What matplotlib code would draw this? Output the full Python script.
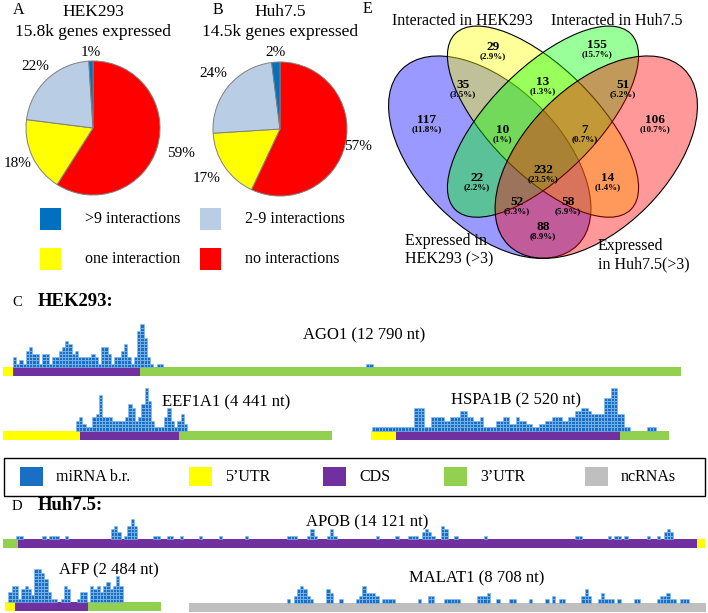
import matplotlib
matplotlib.use('Agg')
import matplotlib.pyplot as plt
from matplotlib.patches import Ellipse, Rectangle
import numpy as np

plt.rcParams['font.family'] = ['Liberation Serif', 'DejaVu Serif']

# ---------------- data ----------------
pie_categories = ['no interactions', 'one interaction', '2-9 interactions', '>9 interactions']
pie_colors = ['#ff0000', '#ffff00', '#b9cde5', '#0070c0']
hek_pct = [59, 18, 22, 1]
huh_pct = [57, 17, 24, 2]

venn_sets = ['Expressed in HEK293 (>3)', 'Interacted in HEK293', 'Interacted in Huh7.5', 'Expressed in Huh7.5(>3)']
venn_counts = [117, 29, 155, 106, 35, 13, 51, 10, 7, 22, 14, 232, 52, 58, 88]
venn_pcts = ['11.8%', '2.9%', '15.7%', '10.7%', '3.5%', '1.3%', '5.2%', '1%', '0.7%',
             '2.2%', '1.4%', '23.5%', '5.3%', '5.9%', '8.9%']

# gene structures (segment lengths in histogram-cell units)
AGO1_segments = [("5'UTR", 3.1), ("CDS", 38.8), ("3'UTR", 165.4)]
EEF1A1_segments = [("5'UTR", 23.5), ("CDS", 30.3), ("3'UTR", 46.8)]
HSPA1B_segments = [("5'UTR", 7.6), ("CDS", 68.5), ("3'UTR", 15.0)]
APOB_segments = [("3'UTR", 4.6), ("CDS", 207.6), ("5'UTR", 2.4)]
AFP_segments = [("5'UTR", 3.1), ("CDS", 22.3), ("3'UTR", 22.3)]
MALAT1_segments = [("ncRNAs", 158.1)]

# miRNA binding-region coverage (stacked cells)
AGO1_start = 3
AGO1_h = [3, 1, 2, 1, 5, 6, 4, 4, 1, 4, 4, 1, 3, 3, 5, 6, 8, 7, 4, 5, 3, 3, 3, 3, 4, 3, 1,
          6, 6, 4, 1, 3, 3, 5, 7, 3, 1, 3, 11, 13, 9, 3, 1, 0, 1, 1]
AGO1_extra_pos = [111, 112]
AGO1_extra_h = [1, 1]

EEF1A1_start = 22.3
EEF1A1_h = [3, 4, 2, 1, 1, 4, 5, 11, 4, 4, 4, 3, 3, 3, 3, 4, 8, 7, 3, 4, 8, 13, 9, 3,
            1, 1, 1, 4, 7, 3, 1, 3, 5, 2]

HSPA1B_start = 0.3
HSPA1B_h = [1] * 13 + [7, 7, 7, 1, 1, 4, 4, 4, 4, 3, 3, 4, 4, 4, 6, 6, 4, 4, 3, 3, 4,
            1, 1, 1, 1, 3, 3, 4, 4, 2, 2, 4, 3, 3, 2, 2, 1, 1, 2, 2, 3, 3, 4, 4, 4,
            3, 3, 4, 4, 6, 6, 7, 7, 6, 5, 5, 5, 5, 10, 10, 13, 13, 5, 5, 1, 1,
            0, 0, 0, 0, 0, 1, 1, 1]

AFP_start = 1
AFP_h = [3, 5, 5, 1, 4, 5, 4, 2, 10, 10, 9, 7, 3, 1, 1, 0, 1, 5, 4, 0, 0, 1, 3, 3, 0,
         5, 4, 5, 3, 5, 6, 4, 5, 8, 5]

APOB_pos = [4, 5, 12, 14, 15, 16, 19, 33, 34, 35, 37, 38, 39, 40, 46, 47, 50, 51, 54, 60,
            66, 74, 87, 88, 89, 93, 94, 95, 99, 100, 101, 114, 120, 124, 125, 126, 128,
            129, 130, 131, 134, 135, 138, 147, 175, 176, 185, 187, 188, 190, 197, 200,
            202, 203, 204]
APOB_h = [1, 1, 1, 1, 1, 1, 1, 3, 4, 2, 1, 4, 6, 4, 1, 1, 1, 1, 1, 1,
          1, 1, 1, 1, 1, 1, 3, 1, 1, 3, 1, 1, 1, 1, 1, 1, 2,
          3, 2, 1, 4, 3, 1, 1, 1, 1, 1, 1, 1, 1, 1, 1,
          2, 3, 2]

MALAT1_pos = [30, 32, 33, 34, 35, 36, 37, 42, 43, 46, 51, 52, 53, 54, 55, 56, 57, 59, 60,
              61, 62, 70, 73, 74, 78, 79, 80, 81, 82, 88, 89, 90, 91, 94, 98, 99, 104,
              109, 111, 113, 114, 120, 121, 122, 125, 126, 127, 128, 129, 131, 136, 137,
              143, 144, 145, 146, 147, 148, 150, 151, 152]
MALAT1_h = [1, 2, 4, 5, 4, 2, 1, 4, 3, 1, 1, 2, 5, 3, 3, 3, 2, 1, 1,
            1, 1, 1, 2, 2, 1, 1, 1, 1, 1, 2, 2, 2, 3, 1, 1, 1, 1,
            1, 2, 1, 1, 2, 4, 2, 1, 3, 1, 1, 1, 1, 1, 1,
            1, 2, 2, 3, 1, 1, 1, 1, 1]

region_colors = {"5'UTR": '#ffff00', 'CDS': '#7030a0', "3'UTR": '#92d050', 'ncRNAs': '#bfbfbf'}
MIR = '#1a6fc4'
MIR_EDGE = '#86bff0'

# ---------------- figure ----------------
W, H = 708, 613
fig = plt.figure(figsize=(W / 100, H / 100), dpi=100)


def ftext(px, py, s, **kw):
    return fig.text(px / W, 1 - py / H, s, **kw)


def add_ax_px(left, top, width, height):
    return fig.add_axes([left / W, 1 - (top + height) / H, width / W, height / H])


# ---- Pies A and B ----
R = 67.0


def draw_pie(cx, cy, values, dists):
    ax = add_ax_px(cx - 1.5 * R, cy - 1.5 * R, 3 * R, 3 * R)
    wedges, _ = ax.pie(values, colors=pie_colors, startangle=90, counterclock=False, radius=1,
                       wedgeprops=dict(edgecolor='#7f7f7f', linewidth=0.7))
    ax.set_xlim(-1.5, 1.5)
    ax.set_ylim(-1.5, 1.5)
    ax.set_aspect('equal')
    ax.axis('off')
    for w, v, d in zip(wedges, values, dists):
        th = np.deg2rad((w.theta1 + w.theta2) / 2)
        ax.text(d * np.cos(th), d * np.sin(th), f'{v}%', ha='center', va='center', fontsize=11)


draw_pie(93, 128, hek_pct, [1.37, 1.24, 1.26, 1.13])
draw_pie(280, 129, huh_pct, [1.19, 1.32, 1.30, 1.14])

ftext(13, 10, 'A', fontsize=11.5, va='center')
ftext(93, 12, 'HEK293', fontsize=12.5, ha='center', va='center')
ftext(93, 32, '15.8k genes expressed', fontsize=12.5, ha='center', va='center')
ftext(213, 10, 'B', fontsize=11.5, va='center')
ftext(280, 12, 'Huh7.5', fontsize=12.5, ha='center', va='center')
ftext(280, 32, '14.5k genes expressed', fontsize=12.5, ha='center', va='center')

# pie legend
leg_order = [3, 2, 1, 0]
leg_xy = [(40, 208), (200, 208), (40, 248), (200, 248)]
for idx, (lx, ly) in zip(leg_order, leg_xy):
    fig.add_artist(Rectangle((lx / W, 1 - (ly + 22) / H), 21 / W, 22 / H,
                             transform=fig.transFigure, facecolor=pie_colors[idx], edgecolor='none'))
    ftext(lx + 45, ly + 11, pie_categories[idx], fontsize=11.5, va='center')

# ---- Venn E ----
S = 355.0
CXP, Y0 = 543.0, 324.0
vl, vr, vt, vb = 363, 708, 0, 292
axv = add_ax_px(vl, vt, vr - vl, vb - vt)
axv.set_xlim(0.5 + (vl - CXP) / S, 0.5 + (vr - CXP) / S)
axv.set_ylim((Y0 - vb) / S, (Y0 - vt) / S)
axv.axis('off')
ell_specs = [((0.35, 0.47), 0.70, 0.40, -45, (0.0, 0.0, 1.0)),
             ((0.50, 0.57), 0.70, 0.30, -45, (1.0, 1.0, 0.0)),
             ((0.50, 0.57), 0.70, 0.30, 45, (0.0, 1.0, 0.0)),
             ((0.65, 0.47), 0.70, 0.40, 45, (1.0, 0.0, 0.0))]
for c, w, h, a, col in ell_specs:
    axv.add_patch(Ellipse(c, w, h, angle=a, facecolor=col + (0.40,), edgecolor='black', linewidth=0.8))

venn_label_pos = [(0.173, 0.575), (0.359, 0.780), (0.652, 0.786), (0.815, 0.575),
                  (0.275, 0.673), (0.500, 0.682), (0.725, 0.673), (0.385, 0.546),
                  (0.618, 0.546), (0.314, 0.411), (0.683, 0.411), (0.500, 0.434),
                  (0.427, 0.344), (0.570, 0.344), (0.500, 0.273)]
for n, p, (x, y) in zip(venn_counts, venn_pcts, venn_label_pos):
    axv.text(x, y, str(n), ha='center', va='center', fontsize=9.5, fontweight='bold')
    axv.text(x, y - 0.026, f'({p})', ha='center', va='center', fontsize=6.5, fontweight='bold')

ftext(363, 9, 'E', fontsize=11.5, va='center')
ftext(462, 21, venn_sets[1], fontsize=11.5, ha='center', va='center')
ftext(617, 21, venn_sets[2], fontsize=11.5, ha='center', va='center')
ftext(405, 250, 'Expressed in\nHEK293 (>3)', fontsize=11.5, ha='left', va='center', linespacing=1.15)
ftext(598, 255, 'Expressed\nin Huh7.5(>3)', fontsize=11.5, ha='left', va='center', linespacing=1.15)

# ---- Gene tracks C and D ----
CELL = 3.27
BAR = 9.0
TOP = 50.0


def draw_track(left, base, segments, label, label_xy, start=None, heights=None, pos=None, ph=None):
    total = sum(l for _, l in segments)
    ax = add_ax_px(left, base - TOP, total * CELL, TOP + BAR)
    ax.set_xlim(0, total)
    ax.set_ylim(-BAR / CELL, TOP / CELL)
    ax.axis('off')
    x0 = 0.0
    for kind, length in segments:
        ax.barh(-BAR / CELL / 2, length, left=x0, height=BAR / CELL,
                color=region_colors[kind], edgecolor='none')
        x0 += length
    xs, hs = [], []
    if heights is not None:
        xs += list(start + np.arange(len(heights)))
        hs += list(heights)
    if pos is not None:
        xs += list(pos)
        hs += list(ph)
    xs = np.array(xs, dtype=float)
    hs = np.array(hs)
    for k in range(int(hs.max())):
        m = hs > k
        ax.bar(xs[m], 1, bottom=k, width=1, align='edge', color=MIR,
               edgecolor=MIR_EDGE, linewidth=0.45)
    ftext(label_xy[0], label_xy[1], label, fontsize=12, ha='left', va='center')


ftext(12, 302, 'C', fontsize=10.5, va='center')
ftext(38, 302, 'HEK293:', fontsize=13.5, fontweight='bold', va='center')
draw_track(3, 367, AGO1_segments, 'AGO1 (12 790 nt)', (303, 335),
           start=AGO1_start, heights=AGO1_h, pos=AGO1_extra_pos, ph=AGO1_extra_h)
draw_track(3, 430.5, EEF1A1_segments, 'EEF1A1 (4 441 nt)', (162, 402),
           start=EEF1A1_start, heights=EEF1A1_h)
draw_track(371, 430.5, HSPA1B_segments, 'HSPA1B (2 520 nt)', (451, 400),
           start=HSPA1B_start, heights=HSPA1B_h)

# legend box
fig.add_artist(Rectangle((4 / W, 1 - 496 / H), 701 / W, 38 / H, transform=fig.transFigure,
                         fill=False, edgecolor='black', linewidth=1.0))
leg2 = [('miRNA b.r.', MIR, 20), ("5’UTR", region_colors["5'UTR"], 189),
        ('CDS', region_colors['CDS'], 323), ("3’UTR", region_colors["3'UTR"], 444),
        ('ncRNAs', region_colors['ncRNAs'], 585)]
for name, col, lx in leg2:
    fig.add_artist(Rectangle((lx / W, 1 - 486 / H), 23 / W, 19 / H, transform=fig.transFigure,
                             facecolor=col, edgecolor='none'))
    ftext(lx + 36, 477, name, fontsize=11.5, va='center')

ftext(12, 506, 'D', fontsize=10.5, va='center')
ftext(38, 506, 'Huh7.5:', fontsize=13.5, fontweight='bold', va='center')
draw_track(3, 539, APOB_segments, 'APOB (14 121 nt)', (306, 522), pos=APOB_pos, ph=APOB_h)
draw_track(5, 602, AFP_segments, 'AFP (2 484 nt)', (59, 570), start=AFP_start, heights=AFP_h)
draw_track(189, 602.5, MALAT1_segments, 'MALAT1 (8 708 nt)', (409, 578),
           pos=MALAT1_pos, ph=MALAT1_h)

fig.savefig('out.png', dpi=100, facecolor='white')
